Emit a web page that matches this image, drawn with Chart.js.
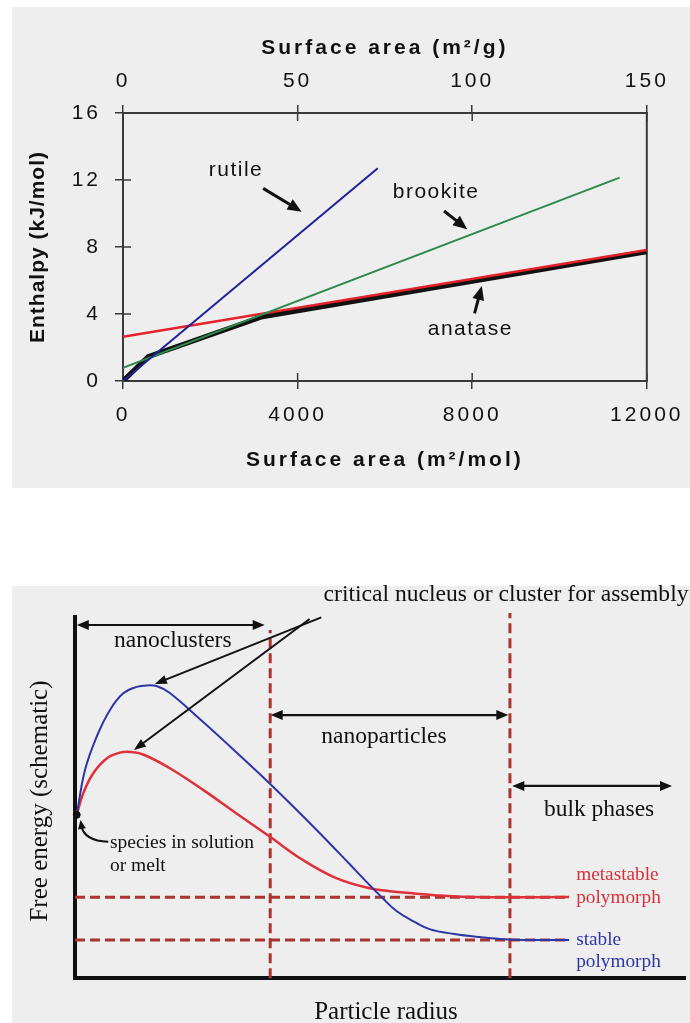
<!DOCTYPE html>
<html>
<head>
<meta charset="utf-8">
<script src="https://cdn.jsdelivr.net/npm/chart.js@4.4.1/dist/chart.umd.min.js"></script>
<style>
  html, body { margin: 0; padding: 0; background: #ffffff; width: 690px; height: 1023px; overflow: hidden; }
  .panel { position: absolute; background: #eeeeee; }
  #panelTop { left: 12px; top: 7px; width: 678px; height: 481px; }
  #panelBottom { left: 12px; top: 586px; width: 678px; height: 437px; }
  #enthalpyChart { position: absolute; left: 0; top: 0; }
  #energyChart { position: absolute; left: 0; top: 580px; }
</style>
</head>
<body>
<div class="panel" id="panelTop"></div>
<div class="panel" id="panelBottom"></div>
<canvas id="enthalpyChart" width="690" height="490"></canvas>
<canvas id="energyChart" width="690" height="460"></canvas>
<script>
// ---------- Enthalpy vs surface area (TiO2 polymorphs) ----------
const molTicks = [0, 4000, 8000, 12000];      // m2/mol
const gramTicks = [0, 50, 100, 150];          // m2/g
const enthalpyTicks = [0, 4, 8, 12, 16];      // kJ/mol

const rutileX = [0, 5836];
const rutileY = [0, 12.70];
const brookiteX = [0, 11378];
const brookiteY = [0.79, 12.14];
const anataseFitX = [0, 12000];
const anataseFitY = [2.64, 7.82];
const anataseX = [0, 576, 3195, 12000];
const anataseY = [0, 1.45, 3.84, 7.72];

const phaseNames = ['rutile', 'brookite', 'anatase'];
const phaseLabelX = [2589, 7173, 7958];
const phaseLabelY = [12.60, 11.28, 3.10];
const pointerFromX = [3211, 7355, 8054];
const pointerFromY = [11.50, 10.15, 4.04];
const pointerToX = [4092, 7885, 8220];
const pointerToY = [10.11, 9.06, 5.67];

// ---------- Free energy vs particle radius (schematic) ----------
const stableRadius = [0.28, 1.64, 3.55, 5.73, 7.91, 10.10, 11.78, 13.58, 15.55, 20.46, 25.37, 30.28, 35.19,
  40.10, 45.01, 47.95, 50.41, 52.70, 55.65, 58.10, 62.19, 66.28, 71.19, 76.10, 81.0];
const stableEnergy = [45.2, 57.6, 66.8, 74.2, 78.8, 80.6, 81.0, 80.7, 78.9, 71.7, 64.2, 56.5, 48.5,
  40.2, 31.6, 26.4, 22.2, 18.6, 15.6, 13.6, 12.25, 11.42, 10.73, 10.6, 10.6];
const metastableRadius = [0.28, 1.36, 2.99, 5.19, 7.36, 9.0, 11.18, 15.55, 21.0, 26.47, 31.91, 37.37, 42.83,
  48.28, 51.55, 55.32, 59.74, 63.5, 71.19, 81.0];
const metastableEnergy = [45.2, 51.2, 56.7, 60.8, 62.4, 62.6, 61.9, 58.1, 52.1, 45.6, 39.2, 32.7, 27.7,
  24.9, 24.1, 23.5, 22.9, 22.57, 22.4, 22.48];

const bulkLevels = [22.4, 10.6];          // metastable, stable
const bulkLevelEnd = 81.0;
const regimeBounds = [32.0, 71.3];
const regimeBoundTops = [96.3, 101.0];
const solutionPoint = [0.28, 45.2];

const regimeNames = ['nanoclusters', 'nanoparticles', 'bulk phases'];
const regimeStart = [0.3, 32.08, 71.69];
const regimeEnd = [31.1, 71.03, 97.87];
const regimeArrowY = [97.7, 72.8, 53.2];
const regimeLabelX = [16.04, 50.65, 85.92];
const regimeLabelY = [93.3, 66.72, 46.6];

const nucleusFromX = [40.38, 38.46];
const nucleusFromY = [99.83, 99.36];
const nucleusToX = [13.09, 9.66];
const nucleusToY = [81.39, 63.14];

const polymorphText = ['metastable', 'polymorph', 'stable', 'polymorph'];
const polymorphTextY = [28.57, 22.21, 10.59, 4.51];
const polymorphTextX = 82.16;

const pts = (xs, ys) => xs.map((x, i) => ({ x: x, y: ys[i] }));

function arrowHead(ctx, x0, y0, x1, y1, len, wid) {
  const a = Math.atan2(y1 - y0, x1 - x0);
  const c = Math.cos(a), s = Math.sin(a);
  ctx.beginPath();
  ctx.moveTo(x1, y1);
  ctx.lineTo(x1 - c * len - s * wid / 2, y1 - s * len + c * wid / 2);
  ctx.lineTo(x1 - c * len + s * wid / 2, y1 - s * len - c * wid / 2);
  ctx.closePath();
  ctx.fill();
}
function arrow(ctx, x0, y0, x1, y1, len, wid, lw) {
  const a = Math.atan2(y1 - y0, x1 - x0);
  ctx.lineWidth = lw;
  ctx.beginPath();
  ctx.moveTo(x0, y0);
  ctx.lineTo(x1 - Math.cos(a) * len * 0.7, y1 - Math.sin(a) * len * 0.7);
  ctx.stroke();
  arrowHead(ctx, x0, y0, x1, y1, len, wid);
}
function spacedText(ctx, text, x, y, font, spacing, align, color, rot) {
  ctx.save();
  ctx.font = font;
  ctx.letterSpacing = spacing;
  ctx.fillStyle = color;
  ctx.textAlign = align;
  ctx.textBaseline = 'middle';
  ctx.translate(x, y);
  if (rot) ctx.rotate(rot);
  ctx.fillText(text, 0, 0);
  ctx.restore();
}

const frameColor = '#3a3a3a';
const sansFont = '"Liberation Sans", Arial, Helvetica, sans-serif';
const serifFont = '"Liberation Serif", "Times New Roman", serif';

const enthalpyDecor = {
  id: 'enthalpyDecor',
  beforeDraw(chart) { chart.ctx.letterSpacing = '3px'; },
  beforeDatasetsDraw(chart) {
    const { ctx, chartArea: a, scales } = chart;
    ctx.save();
    ctx.strokeStyle = frameColor;
    ctx.lineWidth = 2;
    ctx.beginPath();
    ctx.moveTo(a.right, a.top - 1);
    ctx.lineTo(a.right, a.bottom + 1);
    ctx.stroke();
    ctx.lineWidth = 1.5;
    ctx.beginPath();
    molTicks.forEach(v => { const x = scales.x.getPixelForValue(v); ctx.moveTo(x, a.bottom); ctx.lineTo(x, a.bottom - 8); });
    gramTicks.forEach(v => { const x = scales.x2.getPixelForValue(v); ctx.moveTo(x, a.top); ctx.lineTo(x, a.top + 8); });
    enthalpyTicks.forEach(v => { const y = scales.y.getPixelForValue(v); ctx.moveTo(a.left, y); ctx.lineTo(a.left + 8, y); });
    ctx.stroke();
    ctx.restore();
  },
  afterDraw(chart) {
    const { ctx, chartArea: a, scales } = chart;
    const sx = scales.x, sy = scales.y;
    ctx.save();
    ctx.fillStyle = '#111111';
    ctx.strokeStyle = '#111111';
    ctx.lineCap = 'butt';
    for (let i = 0; i < phaseNames.length; i++) {
      spacedText(ctx, phaseNames[i], sx.getPixelForValue(phaseLabelX[i]), sy.getPixelForValue(phaseLabelY[i]),
        '21px ' + sansFont, '1.5px', 'center', '#111111');
      arrow(ctx, sx.getPixelForValue(pointerFromX[i]), sy.getPixelForValue(pointerFromY[i]),
        sx.getPixelForValue(pointerToX[i]), sy.getPixelForValue(pointerToY[i]), 14, 12, 3);
    }
    const cx = (a.left + a.right) / 2;
    spacedText(ctx, 'Surface area (m\u00b2/g)', cx, 48, 'bold 21px ' + sansFont, '3px', 'center', '#111111');
    spacedText(ctx, 'Surface area (m\u00b2/mol)', cx, 460, 'bold 21px ' + sansFont, '3px', 'center', '#111111');
    spacedText(ctx, 'Enthalpy (kJ/mol)', 38, (a.top + a.bottom) / 2, 'bold 21px ' + sansFont, '1px', 'center', '#111111', -Math.PI / 2);
    ctx.restore();
  }
};

const tickFont = { family: sansFont, size: 21 };
const axisGrid = { display: true, drawOnChartArea: false, drawTicks: true, tickLength: 8, color: frameColor, lineWidth: 1.5 };
const axisBorder = { display: true, color: frameColor, width: 2 };

new Chart(document.getElementById('enthalpyChart'), {
  type: 'line',
  data: {
    datasets: [
      { label: 'rutile', data: pts(rutileX, rutileY), borderColor: '#20209a', borderWidth: 2, order: 1 },
      { label: 'brookite', data: pts(brookiteX, brookiteY), borderColor: '#2b8a4c', borderWidth: 2, order: 2 },
      { label: 'anatase fit', data: pts(anataseFitX, anataseFitY), borderColor: '#e3222b', borderWidth: 2.5, order: 3 },
      { label: 'anatase', data: pts(anataseX, anataseY), borderColor: '#111111', borderWidth: 5, order: 4 }
    ]
  },
  options: {
    responsive: false,
    animation: false,
    events: [],
    layout: { padding: { left: 0, right: 40, top: 0, bottom: 0 } },
    elements: { point: { radius: 0 }, line: { tension: 0, borderCapStyle: 'butt' } },
    plugins: { legend: { display: false }, tooltip: { enabled: false } },
    scales: {
      x: {
        type: 'linear', position: 'bottom', min: 0, max: 12000,
        afterBuildTicks: s => { s.ticks = molTicks.map(v => ({ value: v })); },
        ticks: { font: tickFont, color: '#111111', padding: 14, maxRotation: 0, callback: v => String(v) },
        grid: axisGrid, border: axisBorder,
        afterFit: s => { s.height = 109; }
      },
      x2: {
        type: 'linear', position: 'top', min: 0, max: 150,
        afterBuildTicks: s => { s.ticks = gramTicks.map(v => ({ value: v })); },
        ticks: { font: tickFont, color: '#111111', padding: 11, maxRotation: 0, callback: v => String(v) },
        grid: axisGrid, border: axisBorder,
        afterFit: s => { s.height = 113; }
      },
      y: {
        type: 'linear', position: 'left', min: 0, max: 16,
        afterBuildTicks: s => { s.ticks = enthalpyTicks.map(v => ({ value: v })); },
        ticks: { font: tickFont, color: '#111111', padding: 14, callback: v => String(v) },
        grid: axisGrid, border: axisBorder,
        afterFit: s => { s.width = 123; }
      }
    }
  },
  plugins: [enthalpyDecor]
});

// ---------- schematic chart ----------
const boundaryColor = '#a8352e';
const schematicDecor = {
  id: 'schematicDecor',
  afterDraw(chart) {
    const { ctx, scales } = chart;
    const sx = scales.x, sy = scales.y;
    const px = v => sx.getPixelForValue(v), py = v => sy.getPixelForValue(v);
    ctx.save();
    ctx.fillStyle = '#111111';
    ctx.strokeStyle = '#111111';
    // regime ranges (double-headed arrows)
    for (let i = 0; i < regimeNames.length; i++) {
      const y = py(regimeArrowY[i]), x0 = px(regimeStart[i]), x1 = px(regimeEnd[i]);
      ctx.lineWidth = 2.2;
      ctx.beginPath(); ctx.moveTo(x0 + 6, y); ctx.lineTo(x1 - 6, y); ctx.stroke();
      arrowHead(ctx, x1, y, x0, y, 12, 10);
      arrowHead(ctx, x0, y, x1, y, 12, 10);
      spacedText(ctx, regimeNames[i], px(regimeLabelX[i]), py(regimeLabelY[i]), '23.5px ' + serifFont, '0px', 'center', '#111111');
    }
    // critical nucleus pointers
    for (let i = 0; i < nucleusFromX.length; i++) {
      arrow(ctx, px(nucleusFromX[i]), py(nucleusFromY[i]), px(nucleusToX[i]), py(nucleusToY[i]), 12, 9, 2);
    }
    spacedText(ctx, 'critical nucleus or cluster for assembly', px(40.75), py(106.0), '23.6px ' + serifFont, '0px', 'left', '#111111');
    // species in solution pointer
    const s0x = px(5.45), s0y = py(37.78), cpx = px(1.47), cpy = py(37.97), tx = px(0.9), ty = py(43.78);
    ctx.lineWidth = 2;
    ctx.beginPath();
    ctx.moveTo(s0x, s0y);
    ctx.quadraticCurveTo(cpx, cpy, tx + 0.5, ty + 5);
    ctx.stroke();
    arrowHead(ctx, cpx, cpy, tx, ty, 9, 8);
    spacedText(ctx, 'species in solution', px(5.73), py(37.33), '19.5px ' + serifFont, '0px', 'left', '#111111');
    spacedText(ctx, 'or melt', px(5.73), py(31.06), '19.5px ' + serifFont, '0px', 'left', '#111111');
    // polymorph labels
    const labelColors = ['#d8303a', '#d8303a', '#2f35a6', '#2f35a6'];
    for (let i = 0; i < polymorphText.length; i++) {
      spacedText(ctx, polymorphText[i], px(polymorphTextX), py(polymorphTextY[i]), '19.3px ' + serifFont, '0px', 'left', labelColors[i]);
    }
    // axis titles
    spacedText(ctx, 'Particle radius', 386, 432, '25px ' + serifFont, '0px', 'center', '#111111');
    spacedText(ctx, 'Free energy (schematic)', 40, 221, '25px ' + serifFont, '0px', 'center', '#111111', -Math.PI / 2);
    ctx.restore();
  }
};

const dashed = { borderColor: boundaryColor, borderWidth: 3, borderDash: [10, 5], tension: 0, clip: false };
const schematicDatasets = [
  { label: 'stable polymorph', data: pts(stableRadius, stableEnergy), borderColor: '#2f35a6', borderWidth: 2, tension: 0.4, order: 1 },
  { label: 'metastable polymorph', data: pts(metastableRadius, metastableEnergy), borderColor: '#e0313b', borderWidth: 2.5, tension: 0.4, order: 2 }
];
bulkLevels.forEach((lvl, i) => {
  schematicDatasets.push(Object.assign({ label: 'bulk level ' + i, data: pts([0, bulkLevelEnd], [lvl, lvl]), order: 5 }, dashed));
});
regimeBounds.forEach((xb, i) => {
  schematicDatasets.push(Object.assign({ label: 'regime bound ' + i, data: pts([xb, xb], [0, regimeBoundTops[i]]), order: 5 }, dashed));
});
schematicDatasets.push({
  label: 'species in solution', data: pts([solutionPoint[0]], [solutionPoint[1]]), showLine: false,
  pointRadius: 3.5, pointBackgroundColor: '#111111', pointBorderColor: '#111111', order: 0, clip: false
});

const hiddenTicks = { display: false };
const schematicBorder = { display: true, color: '#111111', width: 4 };
new Chart(document.getElementById('energyChart'), {
  type: 'line',
  data: { datasets: schematicDatasets },
  options: {
    responsive: false,
    animation: false,
    events: [],
    layout: { padding: { left: 0, right: 4, top: 36.7, bottom: 0 } },
    elements: { point: { radius: 0 }, line: { borderCapStyle: 'butt' } },
    plugins: { legend: { display: false }, tooltip: { enabled: false } },
    scales: {
      x: {
        type: 'linear', min: 0, max: 100, ticks: hiddenTicks, grid: { display: false }, border: schematicBorder,
        afterFit: s => { s.height = 61.7; }
      },
      y: {
        type: 'linear', min: 0, max: 100, ticks: hiddenTicks, grid: { display: false }, border: schematicBorder,
        afterFit: s => { s.width = 75; }
      }
    }
  },
  plugins: [schematicDecor]
});
</script>
</body>
</html>
